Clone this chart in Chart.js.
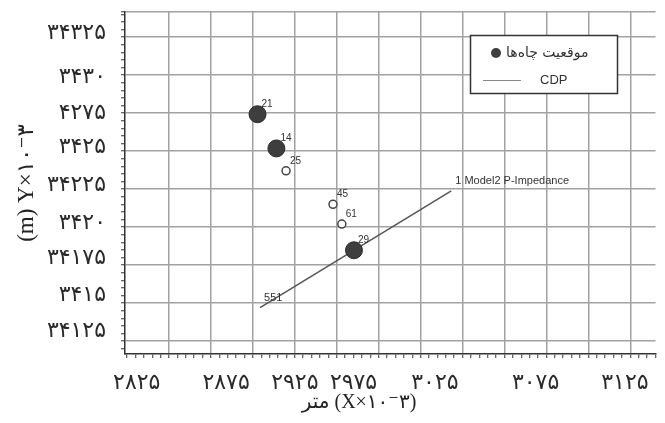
<!DOCTYPE html>
<html>
<head>
<meta charset="utf-8">
<script src="https://cdn.jsdelivr.net/npm/chart.js@4.4.1/dist/chart.umd.min.js"></script>
<style>
  html, body { margin: 0; padding: 0; background: #fff; }
</style>
</head>
<body>
<canvas id="chart" width="665" height="423"></canvas>
<script>
// coordinates are in grid cells (1 = one square of the grid)
const wellIds = ['21', '14', '29'];
const wellX = [3.11, 3.56, 5.41];
const wellY = [5.97, 5.07, 2.39];

const otherIds = ['25', '45', '61'];
const otherX = [3.79, 4.91, 5.12];
const otherY = [4.48, 3.60, 3.08];

const cdpIds = ['551', '1 Model2 P-Impedance'];
const cdpX = [3.17, 7.73];
const cdpY = [0.88, 3.95];

const xTickLabels = ['۲۸۲۵', '۲۸۷۵', '۲۹۲۵', '۲۹۷۵', '۳۰۲۵', '۳۰۷۵', '۳۱۲۵'];
const xTickAt = [0.23, 2.36, 4.0, 5.4, 7.34, 9.74, 11.87];
const yTickLabels = ['۳۴۳۲۵', '۳۴۳۰', '۴۲۷۵', '۳۴۲۵', '۳۴۲۲۵', '۳۴۲۰', '۳۴۱۷۵', '۳۴۱۵', '۳۴۱۲۵'];
const yTickAt = [8.1, 6.95, 6.0, 5.1, 4.1, 3.1, 2.18, 1.2, 0.26];

const X_MIN = -0.05, X_MAX = 12.6;
const Y_MIN = -0.34, Y_MAX = 8.66;

const serif = "'Liberation Serif', 'DejaVu Sans', serif";
const gridGray = '#a2a2a2';

function pts(xs, ys) {
  return xs.map((x, i) => ({ x: x, y: ys[i] }));
}
function isMajor(v) {
  return Math.abs(v - Math.round(v)) < 1e-6;
}
function noPad(s) {
  s.paddingLeft = 0; s.paddingRight = 0; s.paddingTop = 0; s.paddingBottom = 0;
}

// little numbers next to the wells and line ends
const pointIds = {
  id: 'pointIds',
  afterDatasetsDraw(chart) {
    const ctx = chart.ctx;
    ctx.save();
    ctx.fillStyle = '#333';
    ctx.textAlign = 'left';
    ctx.textBaseline = 'middle';
    chart.data.datasets.forEach((ds, i) => {
      if (!ds.ids) return;
      ctx.font = ds.idFont;
      chart.getDatasetMeta(i).data.forEach((pt, j) => {
        ctx.fillText(ds.ids[j], pt.x + 4, pt.y - 10);
      });
    });
    ctx.restore();
  }
};

// boxed legend inside the plot + bottom axis title
const extras = {
  id: 'extras',
  afterDraw(chart) {
    const ctx = chart.ctx;
    const wells = chart.data.datasets[0];
    const cdp = chart.data.datasets[2];
    ctx.save();
    ctx.fillStyle = '#fff';
    ctx.fillRect(470, 35, 147, 58);
    ctx.strokeStyle = '#333';
    ctx.lineWidth = 1.5;
    ctx.strokeRect(470.5, 35.5, 147, 58);

    ctx.beginPath();
    ctx.arc(496, 53, 5, 0, Math.PI * 2);
    ctx.fillStyle = wells.backgroundColor;
    ctx.fill();

    ctx.fillStyle = '#333';
    ctx.textAlign = 'left';
    ctx.textBaseline = 'middle';
    ctx.font = "14px 'DejaVu Sans'";
    ctx.fillText(wells.label, 506, 53);

    ctx.beginPath();
    ctx.moveTo(483, 80.5);
    ctx.lineTo(521, 80.5);
    ctx.strokeStyle = '#888';
    ctx.lineWidth = 1;
    ctx.stroke();
    ctx.font = "13px 'Liberation Sans'";
    ctx.fillText(cdp.label, 540, 80);

    ctx.fillStyle = '#222';
    ctx.textAlign = 'center';
    ctx.font = '20px ' + serif;
    ctx.fillText('متر (X×۱۰⁻۳)', 359, 403);
    ctx.restore();
  }
};

new Chart(document.getElementById('chart'), {
  type: 'scatter',
  data: {
    datasets: [
      {
        label: 'موقعیت چاه‌ها',
        data: pts(wellX, wellY),
        ids: wellIds,
        idFont: "10px 'Liberation Sans'",
        pointRadius: 8.5,
        backgroundColor: '#3e3e3e',
        borderColor: '#2c2c2c',
        borderWidth: 1
      },
      {
        label: '',
        data: pts(otherX, otherY),
        ids: otherIds,
        idFont: "10px 'Liberation Sans'",
        pointRadius: 4,
        backgroundColor: '#fff',
        borderColor: '#454545',
        borderWidth: 1.5
      },
      {
        label: 'CDP',
        data: pts(cdpX, cdpY),
        ids: cdpIds,
        idFont: "11px 'Liberation Sans'",
        showLine: true,
        pointRadius: 0,
        borderColor: '#555',
        borderWidth: 1.5
      }
    ]
  },
  options: {
    responsive: false,
    animation: false,
    layout: { padding: { top: 12, left: 0, right: 0, bottom: 0 } },
    plugins: { legend: { display: false }, tooltip: { enabled: false } },
    scales: {
      x: {
        type: 'linear', position: 'bottom', weight: 0,
        min: X_MIN, max: X_MAX,
        afterBuildTicks: s => {
          s.ticks = [];
          for (let i = 0; i <= 63; i++) s.ticks.push({ value: i / 5 });
        },
        grid: {
          color: c => (c.tick && isMajor(c.tick.value) && c.tick.value > 0) ? gridGray : 'rgba(0,0,0,0)',
          lineWidth: 1.5,
          tickColor: '#333',
          tickWidth: 1,
          tickLength: 4
        },
        border: { display: true, color: '#333', width: 1.5 },
        ticks: { display: false, autoSkip: false },
        afterFit: s => { s.height = 5; noPad(s); }
      },
      xl: {
        type: 'linear', position: 'bottom', weight: 1,
        min: X_MIN, max: X_MAX,
        afterBuildTicks: s => { s.ticks = xTickAt.map(v => ({ value: v })); },
        grid: { display: false },
        border: { display: false },
        ticks: {
          autoSkip: false, maxRotation: 0, padding: 3,
          color: '#2a2a2a',
          font: { family: serif, size: 22 },
          callback: (v, i) => xTickLabels[i]
        },
        afterFit: s => { s.height = 64; noPad(s); }
      },
      y: {
        type: 'linear', position: 'left', weight: 0,
        min: Y_MIN, max: Y_MAX,
        afterBuildTicks: s => {
          s.ticks = [];
          for (let i = -1; i <= 43; i++) s.ticks.push({ value: i / 5 });
          s.ticks.push({ value: Y_MAX });
        },
        grid: {
          color: c => (c.tick && (isMajor(c.tick.value) || c.tick.value === Y_MAX) && c.tick.value >= 0) ? gridGray : 'rgba(0,0,0,0)',
          lineWidth: 1.5,
          tickColor: '#333',
          tickWidth: 1,
          tickLength: 4
        },
        border: { display: true, color: '#333', width: 1.5 },
        ticks: { display: false, autoSkip: false },
        afterFit: s => { s.width = 6; noPad(s); }
      },
      yl: {
        type: 'linear', position: 'left', weight: 1,
        min: Y_MIN, max: Y_MAX,
        afterBuildTicks: s => { s.ticks = yTickAt.map(v => ({ value: v })); },
        grid: { display: false },
        border: { display: false },
        ticks: {
          autoSkip: false, padding: 5,
          color: '#2a2a2a',
          font: { family: serif, size: 22 },
          callback: (v, i) => yTickLabels[i]
        },
        title: {
          display: true,
          text: '(m) Y×۱۰⁻۳',
          color: '#222',
          font: { family: serif, size: 23 },
          padding: { top: 13, bottom: 0 }
        },
        afterFit: s => { s.width = 119; noPad(s); }
      }
    }
  },
  plugins: [pointIds, extras]
});
</script>
</body>
</html>
